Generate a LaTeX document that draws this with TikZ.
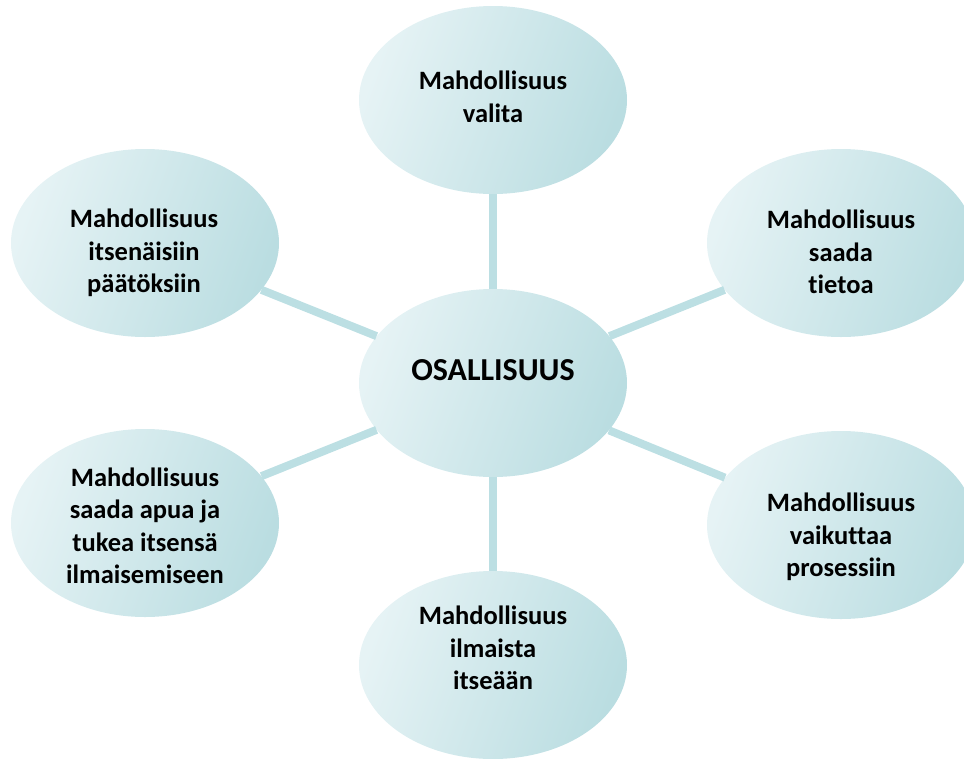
\documentclass[tikz,border=0pt]{standalone}
\usepackage{fontspec}
\setmainfont[RawFeature={-liga;-clig;-calt;-dlig;-rlig}]{Carlito}
\usetikzlibrary{shapes.geometric}
\definecolor{bubbleLight}{HTML}{E6F3F5}
\definecolor{bubbleDark}{HTML}{BADDE1}
\definecolor{spokeTeal}{HTML}{BCDFE3}
\tikzset{x=1pt, y=-1pt,
bubble/.style={ % the light teal ellipses
ellipse, minimum width=268pt, minimum height=188pt, inner sep=0pt,
left color=bubbleLight, right color=bubbleDark, shading angle=70},
words/.style={ % text set on the ellipses
align=center, inner sep=0pt,
font=\bfseries\fontsize{26.5}{32.5}\selectfont},
spoke/.style={draw=spokeTeal, line width=8pt}}

\begin{document}
\begin{tikzpicture}
    \useasboundingbox (0,0) rectangle (964,758);

    \node[bubble] (osa) at (493,383) {};
    \node[bubble] (valita) at (493,100) {};
    \node[bubble] (tietoa) at (841,243) {};
    \node[bubble] (prosessi) at (841,525) {};
    \node[bubble] (itse) at (493,665) {};
    \node[bubble] (apua) at (145,523) {};
    \node[bubble] (paatos) at (145,243) {};

    \draw[spoke] (osa) -- (valita);
    \draw[spoke] (osa) -- (tietoa);
    \draw[spoke] (osa) -- (prosessi);
    \draw[spoke] (osa) -- (itse);
    \draw[spoke] (osa) -- (apua);
    \draw[spoke] (osa) -- (paatos);

    \node[words, font=\bfseries\fontsize{32}{37}\selectfont] (osaT) at (493,370) {OSALLISUUS};
    \node[words] (valitaT) at (493,97) {Mahdollisuus\\valita};
    \node[words] (tietoaT) at (841,252) {Mahdollisuus\\saada\\tietoa};
    \node[words] (prosessiT) at (841,537) {Mahdollisuus\\vaikuttaa\\prosessiin};
    \node[words] (itseT) at (493,648) {Mahdollisuus\\ilmaista\\itseään};
    \node[words] (apuaT) at (145,526) {Mahdollisuus\\saada apua ja\\tukea itsensä\\ilmaisemiseen};
    \node[words] (paatosT) at (144,253) {Mahdollisuus\\itsenäisiin\\päätöksiin};

\end{tikzpicture}
\end{document}
